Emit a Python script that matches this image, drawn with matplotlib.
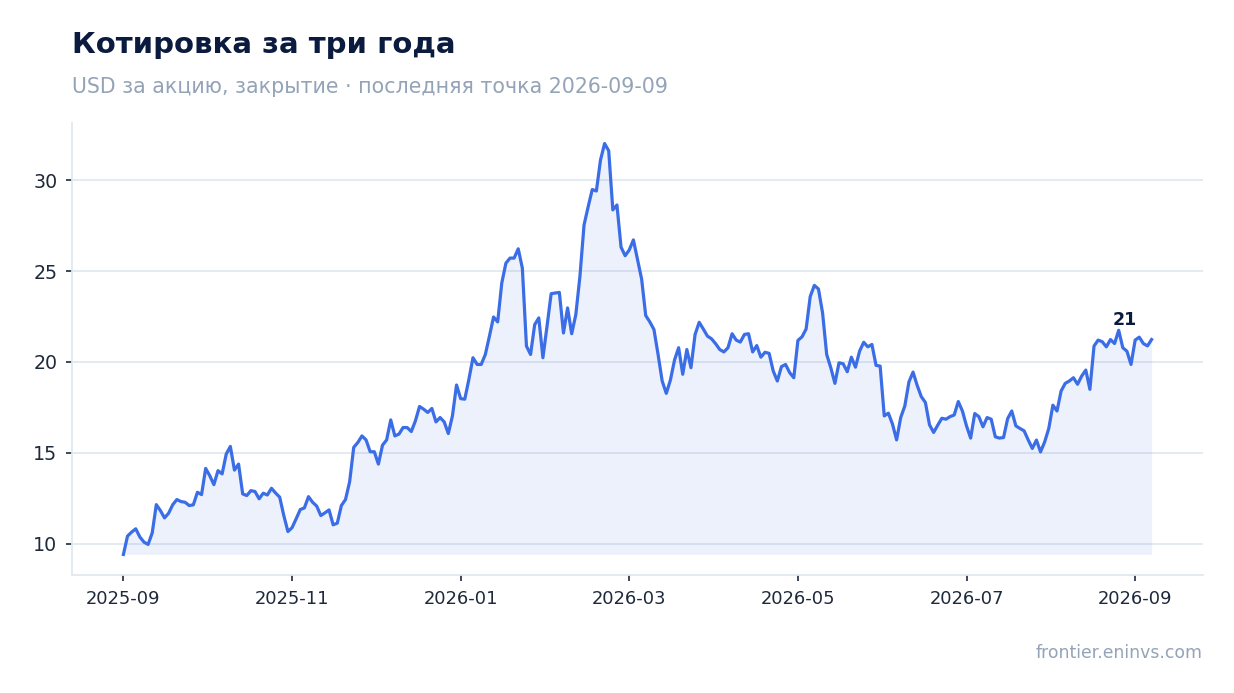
import matplotlib
matplotlib.use("Agg")
import matplotlib.pyplot as plt
import matplotlib.dates as mdates
import pandas as pd
import numpy as np

plt.rcParams['font.family'] = ['DejaVu Sans']

start_date = "2025-09-01"
end_date = "2026-09-09"

prices = [
    9.41, 10.42, 10.64, 10.82, 10.37, 10.09, 9.96, 10.59, 12.15, 11.82,
    11.42, 11.68, 12.15, 12.43, 12.32, 12.28, 12.10, 12.14, 12.83, 12.70,
    14.14, 13.74, 13.25, 14.02, 13.84, 14.93, 15.35, 14.05, 14.38, 12.74,
    12.65, 12.92, 12.87, 12.47, 12.78, 12.68, 13.05, 12.79, 12.56, 11.55,
    10.67, 10.88, 11.37, 11.88, 11.97, 12.59, 12.28, 12.07, 11.55, 11.70,
    11.86, 11.04, 11.13, 12.10, 12.43, 13.40,
    15.30, 15.57, 15.93, 15.71, 15.06, 15.06, 14.38, 15.42, 15.71, 16.81,
    15.93, 16.03, 16.39, 16.39, 16.17, 16.76, 17.55, 17.40, 17.22, 17.44,
    16.70, 16.94, 16.70, 16.06, 17.03, 18.73, 17.98, 17.95, 19.04, 20.23,
    19.86, 19.86, 20.41, 21.42, 22.47, 22.20, 24.34, 25.43, 25.71, 25.71,
    26.22, 25.16, 20.87, 20.41, 22.05, 22.42, 20.23, 21.96, 23.75, 23.79,
    23.82, 21.59, 22.97, 21.55, 22.60,
    24.70, 27.53, 28.53, 29.48, 29.40, 31.10, 32.01, 31.61, 28.36, 28.63,
    26.31, 25.84, 26.16, 26.71, 25.62, 24.56, 22.55, 22.20, 21.78, 20.41,
    18.95, 18.27, 19.00, 20.10, 20.78, 19.32, 20.68, 19.68, 21.51, 22.18,
    21.81, 21.42, 21.27, 21.00, 20.68, 20.55, 20.78, 21.55, 21.20, 21.09,
    21.51, 21.55, 20.55, 20.90, 20.26, 20.53, 20.47, 19.50, 18.95, 19.74,
    19.86, 19.41, 19.13, 21.18, 21.38, 21.81, 23.60, 24.21, 24.01, 22.70,
    20.41, 19.68, 18.82, 19.95, 19.90, 19.46, 20.26, 19.71, 20.59, 21.08,
    20.83, 20.96, 19.81, 19.77, 17.03, 17.18, 16.58, 15.71, 16.94, 17.58,
    18.90, 19.44, 18.71, 18.09, 17.77, 16.54, 16.12, 16.52, 16.90, 16.85,
    16.99, 17.08, 17.82, 17.30, 16.48, 15.81, 17.16, 16.99, 16.43, 16.94,
    16.85, 15.88, 15.81, 15.84, 16.88, 17.30, 16.48, 16.34, 16.21, 15.71,
    15.24, 15.70, 15.05, 15.60, 16.34, 17.62, 17.30, 18.40, 18.82, 18.95,
    19.13, 18.77, 19.22, 19.55, 18.49, 20.87, 21.20, 21.11, 20.83, 21.23,
    21.01, 21.74, 20.78, 20.59, 19.86, 21.20, 21.36, 21.01, 20.88, 21.23,
]

dates = pd.date_range(start_date, end_date, periods=len(prices))
values = np.array(prices)

title = "Котировка за три года"
subtitle = "USD за акцию, закрытие · последняя точка 2026-09-09"
source = "frontier.eninvs.com"
y_ticks = [10, 15, 20, 25, 30]
x_tick_step = 41  # one label roughly every two months

line_color = "#3A6DE6"
grid_color = "#E2E8F0"
tick_color = "#1E293B"

W, H = 1234, 693
fig = plt.figure(figsize=(W / 100, H / 100), dpi=100)
ax = fig.add_axes([72 / W, 1 - 575 / H, (1203 - 72) / W, (575 - 123) / H])

ax.fill_between(dates, values, values.min(), color=line_color, alpha=0.09, linewidth=0)
ax.plot(dates, values, color=line_color, linewidth=2.3, solid_joinstyle='round')

ax.set_yticks(y_ticks)
ax.set_xticks(dates[::x_tick_step])
ax.xaxis.set_major_formatter(mdates.DateFormatter('%Y-%m'))
ax.margins(x=0.05, y=0.05)

ax.grid(axis='y', color=grid_color, linewidth=1.3)
ax.grid(axis='x', visible=False)
ax.set_axisbelow(True)
for s in ['top', 'right']:
    ax.spines[s].set_visible(False)
for s in ['left', 'bottom']:
    ax.spines[s].set_color(grid_color)
    ax.spines[s].set_linewidth(1.3)

ax.tick_params(axis='y', labelsize=13.7, colors=tick_color, length=4.5, width=1.2, pad=6)
ax.tick_params(axis='x', labelsize=12.9, colors=tick_color, length=4.5, width=1.2, pad=6)

last_val = values[-1]
ax.annotate(f"{last_val:.0f}", xy=(dates[-1], last_val), xytext=(-19, 7.5),
            textcoords='offset points', ha='center', va='bottom',
            fontsize=12.6, fontweight='bold', color='#0B1A3F')

fig.text(72 / W, 1 - 52.7 / H, title, fontsize=21, fontweight='bold',
         color='#0B1A3F', ha='left', va='baseline')
fig.text(72 / W, 1 - 93.3 / H, subtitle, fontsize=14.8, color='#94A3B8',
         ha='left', va='baseline')
fig.text(1203 / W, 1 - 658.3 / H, source, fontsize=12.4, color='#94A3B8',
         ha='right', va='baseline')

fig.savefig("out.png", dpi=100)
